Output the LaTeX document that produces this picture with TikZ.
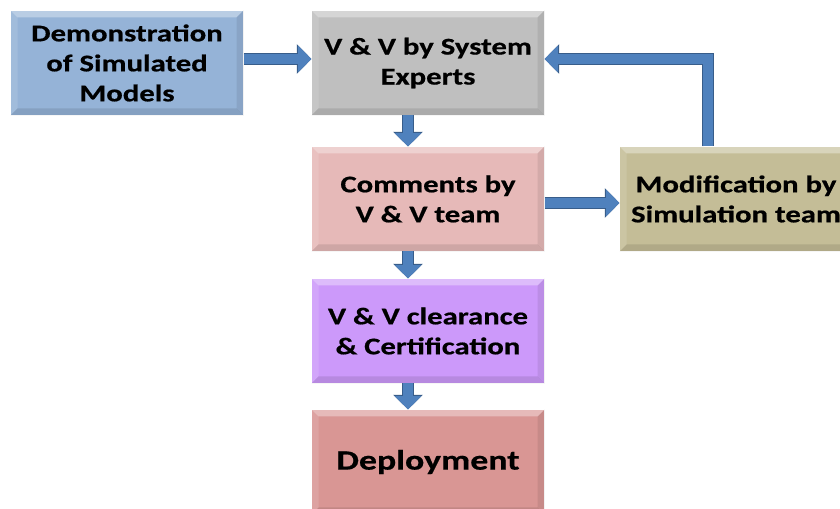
\documentclass[tikz,border=0pt]{standalone}
\usepackage{fontspec}
\newfontfamily\boxfont[FakeStretch=1.28,FakeBold=0.6]{Carlito}
\usetikzlibrary{arrows.meta,calc}

\definecolor{demoblue}{RGB}{149,179,215}
\definecolor{sysgray}{RGB}{191,191,191}
\definecolor{commpink}{RGB}{230,185,184}
\definecolor{modtan}{RGB}{196,189,151}
\definecolor{clearlilac}{RGB}{204,153,250}
\definecolor{deployred}{RGB}{217,150,148}
\definecolor{arrowblue}{RGB}{79,129,189}
\definecolor{arrowedge}{RGB}{56,93,138}

\tikzset{every picture/.style={line width=0.75pt}}
\tikzset{
  vvbox/.style={minimum width=174pt, minimum height=78pt, inner sep=0pt, align=center,
    font=\boxfont\bfseries\fontsize{18}{22.5}\selectfont},
  blockarrow/.style={draw=arrowblue, line width=8pt, line join=miter,
    -{Triangle[length=10pt,width=19pt]},
    preaction={draw=arrowedge, line width=9.5pt, -{Triangle[length=11pt,width=21.5pt]}}}
}

\begin{document}
\begin{tikzpicture}[x=0.75pt,y=0.75pt,yscale=-1,xscale=1]
\useasboundingbox (0,0) rectangle (840,509);

%Shape: Boxes
\node (demo) [vvbox, fill=demoblue] at (127,63) {Demonstration\\of Simulated\\Models};
\node (sys) [vvbox, fill=sysgray] at (428,63) {V \& V by System\\Experts};
\node (comm) [vvbox, fill=commpink] at (428,199) {Comments by\\V \& V team};
\node (mod) [vvbox, fill=modtan] at (736,199) {Modification by\\Simulation team};
\node (clear) [vvbox, fill=clearlilac] at (428,331) {V \& V clearance\\\& Certification};
\node (deploy) [vvbox, fill=deployred, font=\boxfont\bfseries\fontsize{21}{24}\selectfont] at (428,462) {Deployment};

%Shape: Bevel edges
\foreach \n in {demo,sys,comm,mod,clear,deploy}{
  \fill[white,opacity=0.35] (\n.north west) -- (\n.north east) -- ($(\n.north east)+(-7,7)$) -- ($(\n.north west)+(7,7)$) -- cycle;
  \fill[white,opacity=0.12] (\n.north west) -- ($(\n.north west)+(7,7)$) -- ($(\n.south west)+(7,-7)$) -- (\n.south west) -- cycle;
  \fill[black,opacity=0.08] (\n.north east) -- ($(\n.north east)+(-7,7)$) -- ($(\n.south east)+(-7,-7)$) -- (\n.south east) -- cycle;
  \fill[black,opacity=0.1] (\n.south west) -- ($(\n.south west)+(7,-7)$) -- ($(\n.south east)+(-7,-7)$) -- (\n.south east) -- cycle;
}

%Shape: Block arrows
\draw[blockarrow] ([yshift=-3pt]demo.east) -- ([yshift=-3pt]sys.west);
\draw[blockarrow] ([xshift=-15pt]sys.south) -- ([xshift=-15pt]comm.north);
\draw[blockarrow] ([xshift=-15pt]comm.south) -- ([xshift=-15pt]clear.north);
\draw[blockarrow] ([xshift=-15pt]clear.south) -- ([xshift=-15pt]deploy.north);
\draw[blockarrow] ([yshift=3pt]comm.east) -- ([yshift=3pt]comm.east -| mod.west);
\draw[blockarrow] ([xshift=-21pt]mod.north) |- ([yshift=-3pt]sys.east);
\end{tikzpicture}
\end{document}
